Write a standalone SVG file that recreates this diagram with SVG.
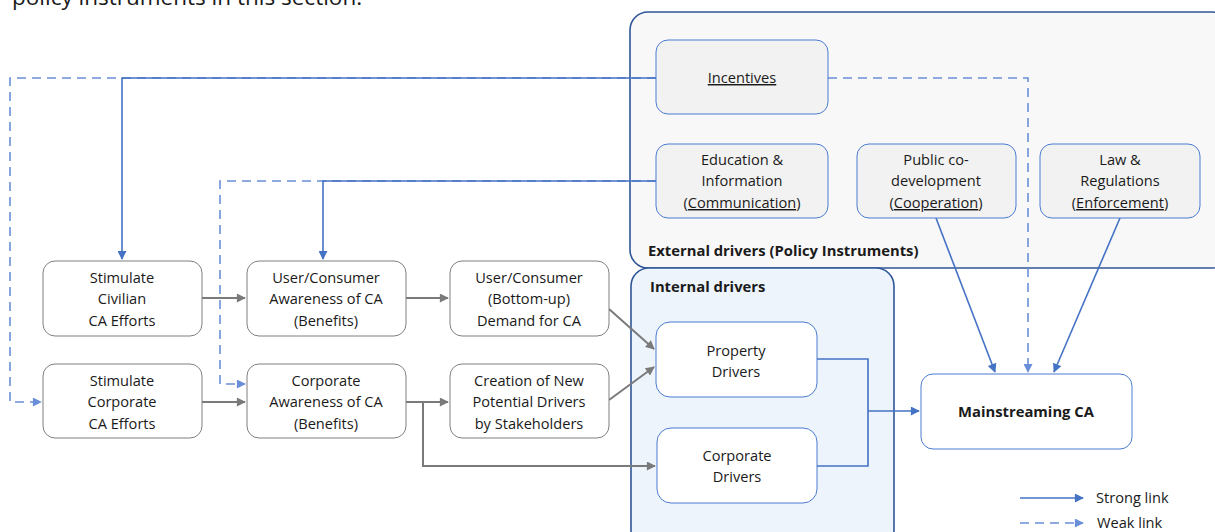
<svg xmlns="http://www.w3.org/2000/svg" width="1215" height="532" viewBox="0 0 1215 532">
<defs>
<style>
text{font-family:"Open Sans","Liberation Sans",sans-serif;font-size:14.6px;fill:#1a1a1a;text-anchor:middle}
.b{font-weight:bold;font-size:14.8px}
.l{text-anchor:start}
.gn{fill:#fff;stroke:#7f7f7f;stroke-width:1}
.bn{fill:#fff;stroke:#4a7bd0;stroke-width:1}
.en{fill:#f2f2f2;stroke:#4a7bd0;stroke-width:1}
.g{fill:none;stroke:#7a7a7a;stroke-width:2}
.s{fill:none;stroke:#4472c4;stroke-width:1.6}
.w{fill:none;stroke:#6a8fd8;stroke-width:1.6;stroke-dasharray:9 6}
</style>
<marker id="ag" viewBox="0 0 10 10" refX="9" refY="5" markerWidth="11" markerHeight="9" markerUnits="userSpaceOnUse" orient="auto"><path d="M0 0L10 5L0 10z" fill="#7a7a7a"/></marker>
<marker id="as" viewBox="0 0 10 10" refX="9" refY="5" markerWidth="12" markerHeight="9" markerUnits="userSpaceOnUse" orient="auto"><path d="M0 0L10 5L0 10z" fill="#4472c4"/></marker>
<marker id="aw" viewBox="0 0 10 10" refX="9" refY="5" markerWidth="12" markerHeight="9" markerUnits="userSpaceOnUse" orient="auto"><path d="M0 0L10 5L0 10z" fill="#6a8fd8"/></marker>
</defs>
<text class="l" x="12" y="5" style="font-size:22.5px">policy instruments in this section.</text>

<g id="external-drivers">
<rect x="630" y="12" width="600" height="256" rx="18" fill="#f8f8f8" stroke="#2f5597" stroke-width="1.6"/>
<text class="b l" x="648" y="256">External drivers (Policy Instruments)</text>
</g>
<g id="internal-drivers">
<rect x="631" y="268" width="263" height="280" rx="18" fill="#edf4fc" stroke="#2f5597" stroke-width="1.6"/>
<text class="b l" x="650" y="292">Internal drivers</text>
</g>

<g id="connectors">
<path class="w" d="M656 78H10V402H41" marker-end="url(#aw)"/>
<path class="s" d="M656 78H122V259" marker-end="url(#as)"/>
<path class="w" d="M656 181H220V384H245" marker-end="url(#aw)"/>
<path class="s" d="M656 181H323V259" marker-end="url(#as)"/>
<path class="w" d="M828 78H1028V372" marker-end="url(#aw)"/>
<path class="s" d="M936 218L995 372" marker-end="url(#as)"/>
<path class="s" d="M1120 218L1054 372" marker-end="url(#as)"/>
<path class="s" d="M817 359H868V466H817"/>
<path class="s" d="M868 411H919" marker-end="url(#as)"/>
<path class="g" d="M202 298H245" marker-end="url(#ag)"/>
<path class="g" d="M406 298H448" marker-end="url(#ag)"/>
<path class="g" d="M609 309L654 349" marker-end="url(#ag)"/>
<path class="g" d="M609 400L654 367" marker-end="url(#ag)"/>
<path class="g" d="M202 402H245" marker-end="url(#ag)"/>
<path class="g" d="M406 402H448" marker-end="url(#ag)"/>
<path class="g" d="M423 402V466H655" marker-end="url(#ag)"/>
</g>

<g id="incentives"><rect class="en" x="656" y="40" width="172" height="74" rx="12"/><text x="742" y="83" text-decoration="underline">Incentives</text></g>
<g id="education"><rect class="en" x="656" y="144" width="172" height="74" rx="12"/><text x="742" y="165">Education &amp;</text><text x="742" y="186">Information</text><text x="742" y="208">(<tspan text-decoration="underline">Communication</tspan>)</text></g>
<g id="public-codev"><rect class="en" x="857" y="144" width="159" height="74" rx="12"/><text x="936" y="165">Public co-</text><text x="936" y="186">development</text><text x="936" y="208">(<tspan text-decoration="underline">Cooperation</tspan>)</text></g>
<g id="law"><rect class="en" x="1040" y="144" width="160" height="74" rx="12"/><text x="1120" y="165">Law &amp;</text><text x="1120" y="186">Regulations</text><text x="1120" y="208">(<tspan text-decoration="underline">Enforcement</tspan>)</text></g>

<g id="property-drivers"><rect class="bn" x="656" y="322" width="161" height="75" rx="14"/><text x="736" y="356">Property</text><text x="736" y="377">Drivers</text></g>
<g id="corporate-drivers"><rect class="bn" x="657" y="428" width="160" height="75" rx="14"/><text x="737" y="461">Corporate</text><text x="737" y="482">Drivers</text></g>
<g id="mainstreaming"><rect class="bn" x="921" y="374" width="211" height="75" rx="12"/><text class="b" x="1026" y="417">Mainstreaming CA</text></g>

<g id="stim-civilian"><rect class="gn" x="43" y="261" width="159" height="75" rx="12"/><text x="122" y="283">Stimulate</text><text x="122" y="304">Civilian</text><text x="122" y="326">CA Efforts</text></g>
<g id="user-awareness"><rect class="gn" x="247" y="261" width="159" height="75" rx="12"/><text x="326" y="283">User/Consumer</text><text x="326" y="304">Awareness of CA</text><text x="326" y="326">(Benefits)</text></g>
<g id="user-demand"><rect class="gn" x="450" y="261" width="159" height="75" rx="12"/><text x="529" y="283">User/Consumer</text><text x="529" y="304">(Bottom-up)</text><text x="529" y="326">Demand for CA</text></g>
<g id="stim-corporate"><rect class="gn" x="43" y="364" width="159" height="74" rx="12"/><text x="122" y="386">Stimulate</text><text x="122" y="407">Corporate</text><text x="122" y="429">CA Efforts</text></g>
<g id="corp-awareness"><rect class="gn" x="247" y="364" width="159" height="74" rx="12"/><text x="326" y="386">Corporate</text><text x="326" y="407">Awareness of CA</text><text x="326" y="429">(Benefits)</text></g>
<g id="new-drivers"><rect class="gn" x="450" y="364" width="159" height="74" rx="12"/><text x="529" y="386">Creation of New</text><text x="529" y="407">Potential Drivers</text><text x="529" y="429">by Stakeholders</text></g>

<g id="legend">
<path class="s" d="M1020 498H1083" marker-end="url(#as)"/>
<text class="l" x="1096" y="503">Strong link</text>
<path class="w" d="M1020 523H1083" marker-end="url(#aw)"/>
<text class="l" x="1097" y="528">Weak link</text>
</g>
</svg>
